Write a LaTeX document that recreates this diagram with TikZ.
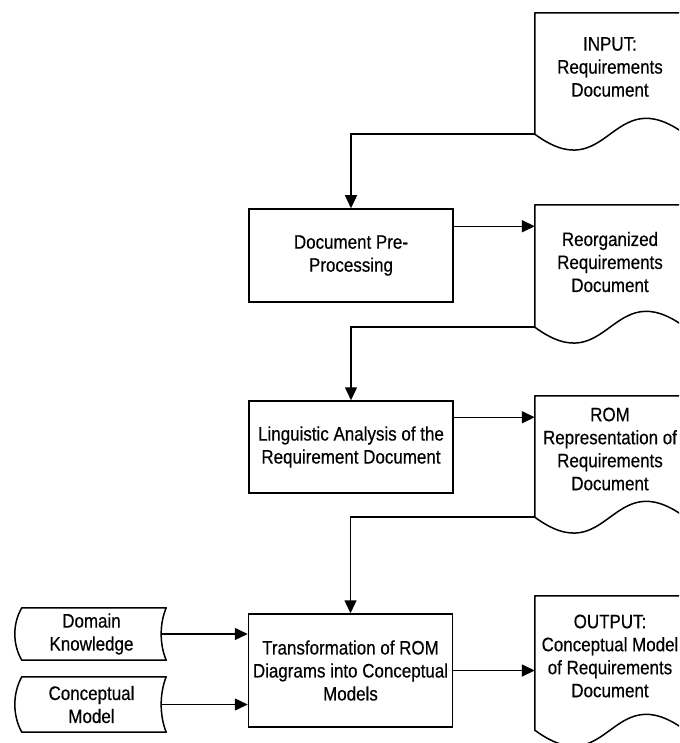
\documentclass[tikz,border=0pt]{standalone}
\usepackage{fontspec}
\setmainfont[FakeStretch=0.87,FakeBold=0.4]{Liberation Sans}
\usetikzlibrary{arrows.meta,calc}
\begin{document}
\begin{tikzpicture}[x=1pt,y=-1pt,
  every node/.style={font=\fontsize{19.5}{23}\selectfont, align=center, inner sep=0pt},
  procbox/.style={draw, line width=1.5pt, minimum width=204pt, minimum height=#1},
  docarea/.style={minimum width=150pt, minimum height=#1},
  storearea/.style={minimum width=139pt, minimum height=#1},
  outline/.style={line width=1.5pt, line join=round},
  flow/.style={line width=1.5pt, -{Triangle[length=13pt,width=12pt]}},
]
\useasboundingbox (0,0) rectangle (679,743);
\clip (0,0) rectangle (679,743);

% documents (outline drawn below) and their texts
\node[docarea=121pt] (d1) at (610,73.5) {};
\node (d1t) at (610,67) {INPUT:\\Requirements\\Document};
\node[docarea=122pt] (d2) at (610,266) {};
\node (d2t) at (610,262) {Reorganized\\Requirements\\Document};
\node[docarea=121pt] (d3) at (610,456.5) {};
\node (d3t) at (610,449) {ROM\\Representation of\\Requirements\\Document};
\node[docarea=134pt] (d4) at (610,663) {};
\node (d4t) at (610,656) {OUTPUT:\\Conceptual Model\\of Requirements\\Document};

% processing steps
\node[procbox=93pt] (b1) at (351,255.5) {Document Pre-\\Processing};
\node[procbox=92pt] (b2) at (351,447) {Linguistic Analysis of the\\Requirement Document};
\node[procbox=113pt] (b3) at (350.5,670.5) {Transformation of ROM\\Diagrams into Conceptual\\Models};

% stored data
\node[storearea=52pt] (k1) at (91.5,634) {Domain\\Knowledge};
\node[storearea=55pt] (k2) at (91.5,704.5) {Conceptual\\Model};

% document outlines with wavy bottom
\foreach \n in {d1,d2,d3,d4}
  \draw[outline] (\n.south west) -- (\n.north west) -- (\n.north east) -- (\n.south east)
    .. controls ($(\n.south east)+(-75,-55)$) and ($(\n.south west)+(75,55)$) .. (\n.south west) -- cycle;

% stored data outlines
\foreach \n in {k1,k2}
  \draw[outline] (\n.north west) -- ($(\n.north east)+(5,0)$)
    .. controls ($(\n.north east)!0.3!(\n.south east)+(-1.7,0)$) and ($(\n.north east)!0.7!(\n.south east)+(-1.7,0)$) .. ($(\n.south east)+(5,0)$)
    -- (\n.south west)
    .. controls ($(\n.north west)!0.7!(\n.south west)+(-9.3,0)$) and ($(\n.north west)!0.3!(\n.south west)+(-9.3,0)$) .. (\n.north west) -- cycle;

% flow
\draw[flow] (d1.south west) -| (b1.north);
\coordinate (a1) at ($(b1.north east)+(0,18)$);
\draw[flow] (a1) -- (a1 -| d2.west);
\draw[flow] (d2.south west) -| (b2.north);
\coordinate (a2) at ($(b2.north east)+(0,17)$);
\draw[flow] (a2) -- (a2 -| d3.west);
\draw[flow] (d3.south west) -| (b3.north);
\draw[flow] (b3.east) -- (b3.east -| d4.west);
\draw[flow] (k1.east) -- (k1.east -| b3.west);
\draw[flow] (k2.east) -- (k2.east -| b3.west);
\end{tikzpicture}
\end{document}
